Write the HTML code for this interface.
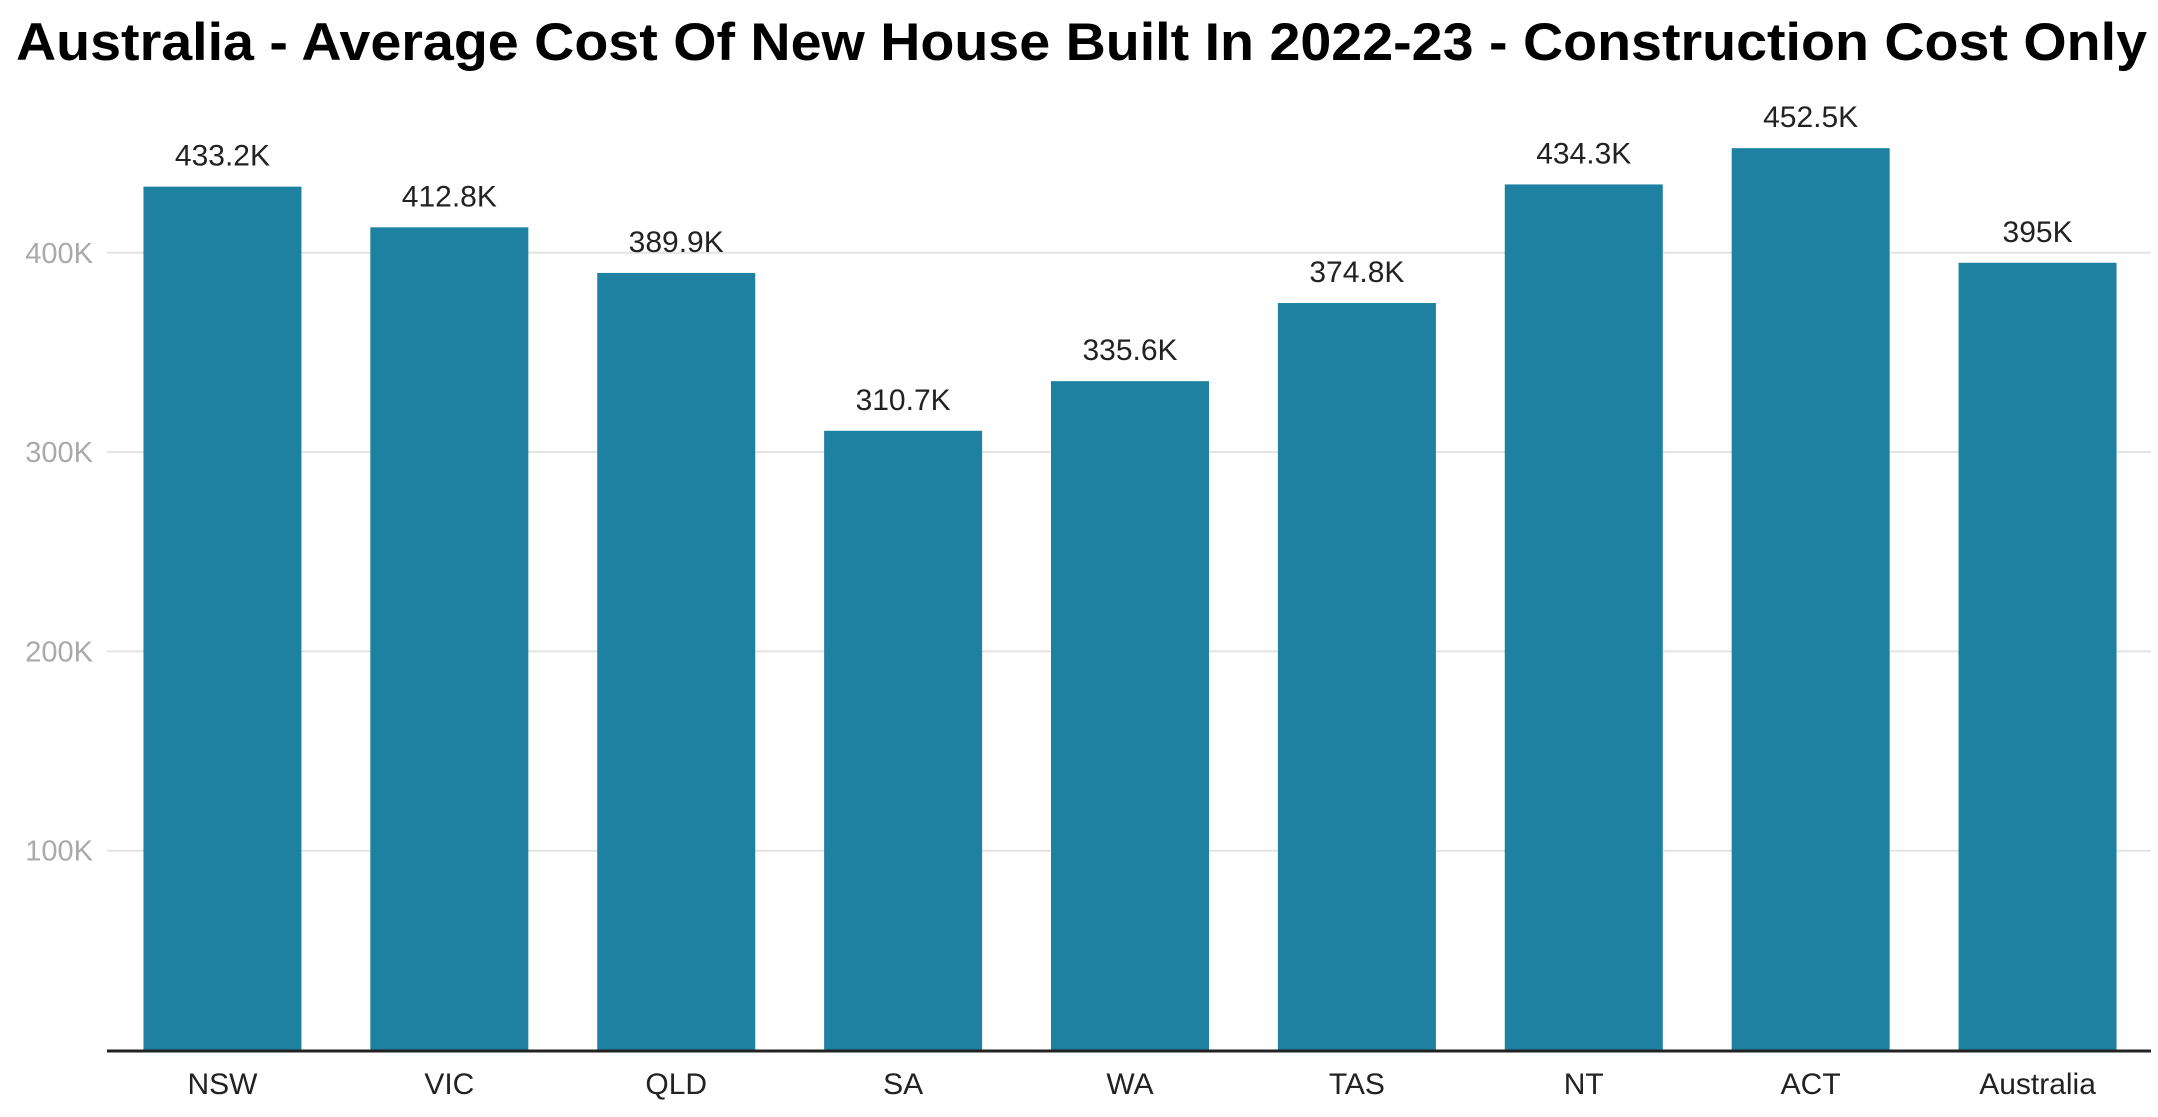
<!DOCTYPE html>
<html><head><meta charset="utf-8"><style>
html,body{margin:0;padding:0;background:#fff;}
svg{display:block;font-family:"Liberation Sans",sans-serif;}
</style></head><body>
<svg id="chart" width="2158" height="1117" viewBox="0 0 2158 1117">
<text x="16" y="60" font-size="53" font-weight="bold" fill="#000" textLength="2131" lengthAdjust="spacingAndGlyphs">Australia - Average Cost Of New House Built In 2022-23 - Construction Cost Only</text>
<g id="grid"></g><g id="bars"></g><g id="labels"></g>
</svg>
<script>
const categories=["NSW","VIC","QLD","SA","WA","TAS","NT","ACT","Australia"];
const values=[433.2,412.8,389.9,310.7,335.6,374.8,434.3,452.5,395];
const valueLabels=["433.2K","412.8K","389.9K","310.7K","335.6K","374.8K","434.3K","452.5K","395K"];
const ticks=[100,200,300,400];
const tickLabels=["100K","200K","300K","400K"];
const NS="http://www.w3.org/2000/svg";
const x0=109,x1=2151,y0=1050,pxPer=1.993;
const band=(x1-x0)/categories.length,bw=158;
const y=v=>y0-v*pxPer;
const xc=i=>x0+band*(i+0.5);
function mk(t,a,p){const e=document.createElementNS(NS,t);for(const k in a)e.setAttribute(k,a[k]);p.appendChild(e);return e;}
const grid=document.getElementById('grid'),bars=document.getElementById('bars'),labels=document.getElementById('labels');
ticks.forEach((t,i)=>{
 const l=mk('line',{x1:x0-2,x2:x1,y1:y(t),y2:y(t),stroke:'#e3e3e3','stroke-width':2},grid);
 
 
 const tx=mk('text',{x:93,y:y(t)+10,'text-anchor':'end','font-size':29,fill:'#aaaaaa'},grid);
 tx.textContent=tickLabels[i];
 
 
});
categories.forEach((c,i)=>{
 const r=mk('rect',{x:xc(i)-bw/2,y:y(values[i]),width:bw,height:y0-y(values[i]),fill:'#1f81a1'},bars);
 
 
 const v=mk('text',{x:xc(i),y:y(values[i])-21,'text-anchor':'middle','font-size':30,fill:'#222'},labels);
 v.textContent=valueLabels[i];
 
 
 const xl=mk('text',{x:xc(i),y:1094,'text-anchor':'middle','font-size':30,fill:'#222'},labels);
 xl.textContent=c;
 
 
});
const ax=mk('line',{x1:x0-2,x2:x1,y1:y0+1,y2:y0+1,stroke:'#222','stroke-width':3},labels);


</script>
</body></html>
